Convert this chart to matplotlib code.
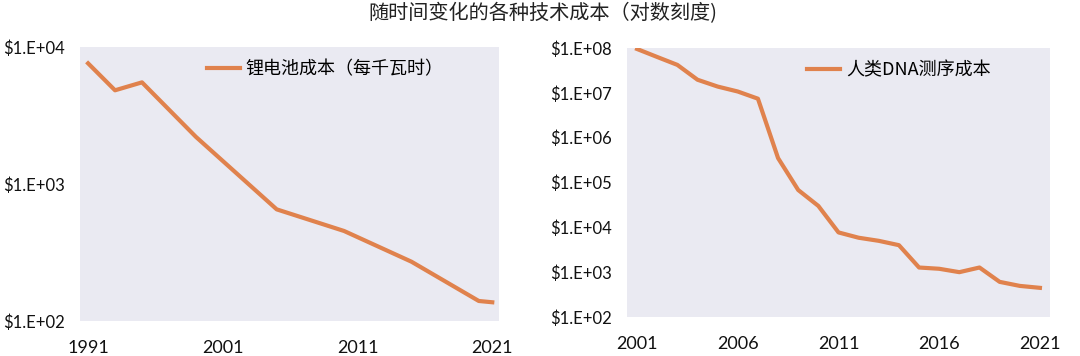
import math

import matplotlib
matplotlib.use("Agg")
import matplotlib.pyplot as plt
from matplotlib.ticker import FixedLocator, FuncFormatter

plt.rcParams["font.family"] = ["Lato", "Noto Sans CJK SC", "DejaVu Sans"]

# lithium battery cost per kWh
battery_years = [1991, 1993, 1995, 1999, 2005, 2010, 2015, 2020, 2021]
battery_cost = [7600, 4830, 5520, 2210, 653, 454, 271, 140, 137]

# human DNA sequencing cost
dna_years = [2001, 2002, 2003, 2004, 2005, 2006, 2007, 2008, 2009, 2010, 2011,
             2012, 2013, 2014, 2015, 2016, 2017, 2018, 2019, 2020, 2021]
dna_cost = [9.5e7, 6.3e7, 4.2e7, 1.96e7, 1.38e7, 1.07e7, 7.4e6, 3.5e5, 6.8e4,
            3.0e4, 7700, 5860, 5000, 4000, 1270, 1190, 1000, 1270, 608, 494, 447]

battery_label = "锂电池成本（每千瓦时）"
dna_label = "人类DNA测序成本"
title = "随时间变化的各种技术成本（对数刻度)"

line_color = "#E0824D"
bg_color = "#EAEAF2"

fig = plt.figure(figsize=(10.8, 3.56), dpi=100)
fig.text(0.503, 0.963, title, ha="center", va="center", fontsize=14.5,
         family=["Noto Sans CJK SC", "DejaVu Sans"], color="#222222")

fmt = FuncFormatter(lambda v, p: "$1.E+%02d" % round(math.log10(v)))


def style_axis(ax, xticks, ylo, yhi):
    ax.set_facecolor(bg_color)
    for s in ax.spines.values():
        s.set_visible(False)
    ax.set_yscale("log")
    ax.set_ylim(ylo, yhi)
    ax.yaxis.set_major_locator(FixedLocator([10 ** k for k in range(2, 9)]))
    ax.yaxis.set_minor_locator(FixedLocator([]))
    ax.yaxis.set_major_formatter(fmt)
    ax.set_xticks(xticks)
    ax.tick_params(length=0, colors="#111111")
    ax.tick_params(axis="y", pad=11, labelsize=12)
    ax.tick_params(axis="x", pad=14, labelsize=13)


legend_kw = dict(loc="center left", frameon=False, borderpad=0, borderaxespad=0,
                 handlelength=1.85, handletextpad=0.3,
                 prop={"family": ["Noto Sans CJK SC"], "size": 13})

# left panel
ax1 = fig.add_axes([80 / 1080, 1 - 321 / 356, 419 / 1080, 274 / 356])
ax1.plot(battery_years, battery_cost, color=line_color, lw=3, label=battery_label)
ax1.set_xlim(1990.4, 2021.5)
style_axis(ax1, [1991, 2001, 2011, 2021], 100, 10000)
ax1.legend(bbox_to_anchor=(0.303, 0.92), **legend_kw)

# right panel
ax2 = fig.add_axes([627 / 1080, 1 - 317 / 356, 423 / 1080, 269 / 356])
ax2.plot(dna_years, dna_cost, color=line_color, lw=3, label=dna_label)
ax2.set_xlim(2000.5, 2021.5)
style_axis(ax2, [2001, 2006, 2011, 2016, 2021], 100, 1e8)
ax2.legend(bbox_to_anchor=(0.4255, 0.9156), **legend_kw)

fig.savefig("out.png", dpi=100)
